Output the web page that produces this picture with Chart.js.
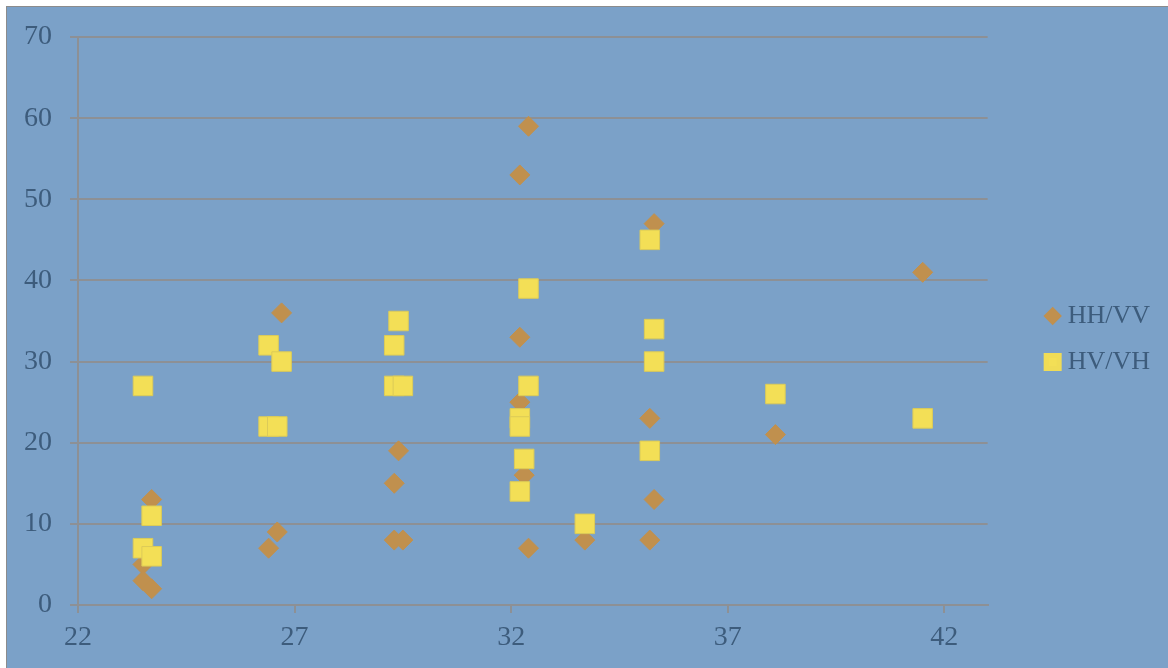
<!DOCTYPE html>
<html>
<head>
<meta charset="utf-8">
<script src="https://cdn.jsdelivr.net/npm/chart.js@4"></script>
<style>
  html, body { margin: 0; padding: 0; background: #ffffff; width: 1168px; height: 668px; overflow: hidden; }
  #frame { position: absolute; left: 6px; top: 6px; width: 1200px; height: 700px;
           background: #7ba1c8; border-left: 1px solid #8c8c8c; border-top: 1px solid #8c8c8c; }
  #box { position: absolute; left: 7px; top: 7px; width: 1161px; height: 661px; }
</style>
</head>
<body>
<div id="frame"></div>
<div id="box"><canvas id="chart"></canvas></div>
<script>
// HH/VV ratio samples
const hhvvX = [23.5, 23.5, 23.7, 23.7, 26.4, 26.6, 26.7, 29.3, 29.3, 29.4, 29.5, 32.2, 32.2, 32.2, 32.3, 32.4, 32.4, 33.7, 35.2, 35.2, 35.3, 35.3, 38.1, 41.5];
const hhvvY = [5, 3, 13, 2, 7, 9, 36, 15, 8, 19, 8, 53, 33, 25, 16, 59, 7, 8, 23, 8, 47, 13, 21, 41];

// HV/VH ratio samples
const hvvhX = [23.5, 23.5, 23.7, 23.7, 26.4, 26.4, 26.6, 26.7, 29.3, 29.3, 29.4, 29.5, 32.2, 32.2, 32.2, 32.3, 32.4, 32.4, 33.7, 35.2, 35.2, 35.3, 35.3, 38.1, 41.5];
const hvvhY = [27, 7, 11, 6, 32, 22, 22, 30, 32, 27, 35, 27, 23, 22, 14, 18, 39, 27, 10, 45, 19, 34, 30, 26, 23];

const seriesNames = ['HH/VV', 'HV/VH'];
const xTicks = [22, 27, 32, 37, 42];
const xRange = [22, 43];
const yRange = [0, 70];
const yStep = 10;

const toPoints = (xs, ys) => xs.map((x, i) => ({ x: x, y: ys[i] }));

const textColor = '#3d5c7c';
const gridColor = '#8d9095';
const fontFamily = "'Liberation Serif', 'Times New Roman', serif";

new Chart(document.getElementById('chart'), {
  type: 'scatter',
  data: {
    datasets: [
      {
        label: seriesNames[0],
        data: toPoints(hhvvX, hhvvY),
        pointStyle: 'rectRot',
        pointRadius: 10,
        pointHoverRadius: 10,
        backgroundColor: '#c0904e',
        borderColor: '#c0904e',
        borderWidth: 1,
        order: 2
      },
      {
        label: seriesNames[1],
        data: toPoints(hvvhX, hvvhY),
        pointStyle: 'rect',
        pointRadius: 13.8,
        pointHoverRadius: 13.8,
        backgroundColor: '#f3df56',
        borderColor: '#dccb58',
        borderWidth: 1,
        order: 1
      }
    ]
  },
  options: {
    responsive: true,
    maintainAspectRatio: false,
    animation: false,
    events: [],
    layout: { padding: { left: 0, top: 30, right: 8, bottom: 0 } },
    scales: {
      x: {
        type: 'linear',
        position: 'bottom',
        min: xRange[0],
        max: xRange[1],
        afterBuildTicks: (s) => { s.ticks = xTicks.map(v => ({ value: v })); },
        afterFit: (s) => { s.height = 63; },
        grid: { drawOnChartArea: false, drawTicks: true, tickLength: 8, color: gridColor, lineWidth: 2 },
        border: { display: true, color: gridColor, width: 2 },
        ticks: { color: textColor, padding: 8, maxRotation: 0, autoSkip: false,
                 font: { family: fontFamily, size: 28 } }
      },
      y: {
        type: 'linear',
        position: 'left',
        min: yRange[0],
        max: yRange[1],
        afterFit: (s) => { s.width = 71; },
        grid: { drawTicks: true, tickLength: 8, color: gridColor, lineWidth: 2 },
        border: { display: true, color: gridColor, width: 2 },
        ticks: { stepSize: yStep, color: textColor, padding: 18,
                 font: { family: fontFamily, size: 28, lineHeight: 0.8 } }
      },
      gap: {
        type: 'linear',
        position: 'right',
        display: true,
        afterFit: (s) => { s.width = 43; },
        grid: { display: false, drawTicks: false },
        border: { display: false },
        ticks: { display: false }
      }
    },
    plugins: {
      tooltip: { enabled: false },
      legend: {
        position: 'right',
        align: 'start',
        title: { display: true, text: '', font: { size: 10, lineHeight: 1.2 }, padding: { top: 234, bottom: 0 } },
        labels: {
          usePointStyle: true,
          boxHeight: 13,
          boxWidth: 4,
          padding: 20,
          color: textColor,
          font: { family: fontFamily, size: 26 },
          sort: (a, b) => a.datasetIndex - b.datasetIndex,
          generateLabels: (chart) => {
            const items = Chart.defaults.plugins.legend.labels.generateLabels(chart);
            items.forEach(it => {
              if (it.pointStyle === 'rect') { it.lineWidth = 5; it.strokeStyle = '#f0dc56'; }
              else { it.lineWidth = 0; }
            });
            return items;
          }
        }
      }
    }
  }
});
</script>
</body>
</html>
